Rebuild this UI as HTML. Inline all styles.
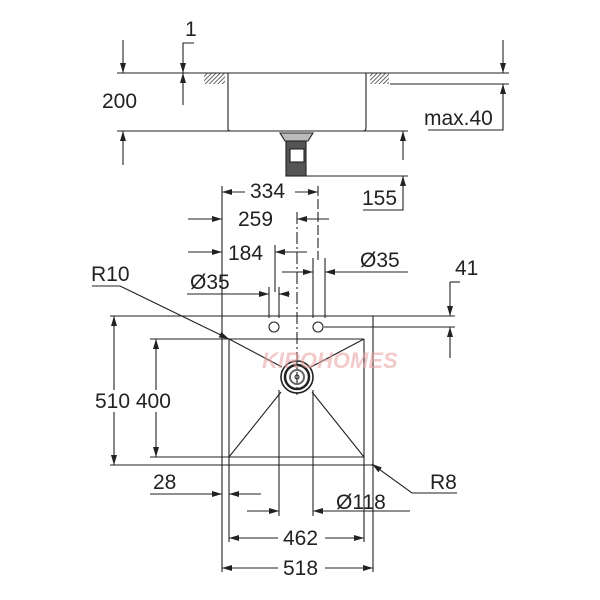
<!DOCTYPE html>
<html><head><style>
html,body{margin:0;padding:0;background:#fff;}
svg{display:block;}
text{font-family:"Liberation Sans",sans-serif;font-size:21px;fill:#222;}
</style></head><body>
<svg width="600" height="600" viewBox="0 0 600 600" xmlns="http://www.w3.org/2000/svg">
<defs>
<marker id="a" viewBox="0 0 10 6" refX="10" refY="3" markerWidth="11" markerHeight="6" orient="auto" markerUnits="userSpaceOnUse"><path d="M0,0 L10,3 L0,6 z" fill="#222"/></marker>
<pattern id="h" width="3" height="3" patternUnits="userSpaceOnUse" patternTransform="rotate(45)"><line x1="0" y1="0" x2="0" y2="3" stroke="#333" stroke-width="1.5"/></pattern>
</defs>
<g stroke="#222" stroke-width="1.1" fill="none">
<line x1="117" y1="73" x2="509" y2="73"/>
<line x1="390" y1="84" x2="509" y2="84"/>
<rect x="204" y="73" width="21" height="11" fill="url(#h)" stroke="none"/>
<rect x="370" y="73" width="19" height="11" fill="url(#h)" stroke="none"/>
<path d="M228,73 V129 Q228,131 231,131 H363 Q366,131 366,128 V73"/>
<line x1="117" y1="131" x2="408" y2="131"/>
<path d="M280,133 H313 L308,141 H285 Z" fill="#bbb"/>
<rect x="286" y="141" width="20" height="35" fill="#555"/>
<rect x="290" y="149" width="14" height="13" fill="#fff"/>
<line x1="293" y1="176" x2="408" y2="176"/>
<line x1="123" y1="40" x2="123" y2="73" marker-end="url(#a)"/>
<line x1="123" y1="165" x2="123" y2="131" marker-end="url(#a)"/>
<path d="M194,43 H183 V73" marker-end="url(#a)"/>
<line x1="183" y1="105" x2="183" y2="73" marker-end="url(#a)"/>
<line x1="503" y1="40" x2="503" y2="73" marker-end="url(#a)"/>
<path d="M428,130 H503 V84" marker-end="url(#a)"/>
<line x1="403" y1="160" x2="403" y2="131" marker-end="url(#a)"/>
<path d="M363,210 H403 V176" marker-end="url(#a)"/>
<line x1="222" y1="186" x2="222" y2="572"/>
<line x1="318" y1="186" x2="318" y2="260" stroke-dasharray="10 3"/>
<line x1="245" y1="192" x2="222" y2="192" marker-end="url(#a)"/>
<line x1="295" y1="192" x2="318" y2="192" marker-end="url(#a)"/>
<line x1="188" y1="219" x2="222" y2="219" marker-end="url(#a)"/>
<line x1="329" y1="219" x2="297" y2="219" marker-end="url(#a)"/>
<line x1="297" y1="212" x2="297" y2="395" stroke-dasharray="12 3 2 3"/>
<line x1="188" y1="252" x2="222" y2="252" marker-end="url(#a)"/>
<line x1="307" y1="252" x2="275" y2="252" marker-end="url(#a)"/>
<line x1="275" y1="245" x2="275" y2="292"/>
<line x1="187" y1="294" x2="269" y2="294" marker-end="url(#a)"/>
<line x1="290" y1="294" x2="279" y2="294" marker-end="url(#a)"/>
<line x1="282" y1="272" x2="313" y2="272" marker-end="url(#a)"/>
<line x1="408" y1="272" x2="325" y2="272" marker-end="url(#a)"/>
<line x1="269" y1="287" x2="269" y2="318"/><line x1="279" y1="287" x2="279" y2="318"/>
<line x1="313" y1="258" x2="313" y2="318"/><line x1="325" y1="258" x2="325" y2="318"/>
<circle cx="274" cy="327" r="5"/><circle cx="318" cy="327" r="5"/>
<line x1="110" y1="316" x2="455" y2="316"/>
<line x1="324" y1="327" x2="455" y2="327"/>
<line x1="373" y1="316" x2="373" y2="572"/>
<line x1="110" y1="465" x2="373" y2="465"/>
<line x1="150" y1="339" x2="364" y2="339"/>
<line x1="150" y1="457" x2="364" y2="457"/>
<line x1="229" y1="339" x2="229" y2="542"/>
<line x1="364" y1="339" x2="364" y2="542"/>
<line x1="229" y1="339" x2="282" y2="367"/>
<line x1="364" y1="339" x2="311" y2="367"/>
<line x1="229" y1="457" x2="281" y2="392"/>
<line x1="364" y1="457" x2="312" y2="392"/>
<circle cx="297" cy="377" r="16" stroke-width="1.6"/>
<circle cx="297" cy="377" r="12" stroke-width="2.5"/>
<circle cx="297" cy="377" r="7" stroke-width="2" stroke="#666"/>
<circle cx="297" cy="377" r="2"/>
<line x1="279" y1="390" x2="279" y2="516"/>
<line x1="313" y1="390" x2="313" y2="516"/>
<line x1="247" y1="511" x2="279" y2="511" marker-end="url(#a)"/>
<line x1="410" y1="511" x2="313" y2="511" marker-end="url(#a)"/>
<line x1="450" y1="282" x2="460" y2="282"/>
<line x1="450" y1="282" x2="450" y2="316" marker-end="url(#a)"/>
<line x1="450" y1="358" x2="450" y2="327" marker-end="url(#a)"/>
<path d="M92,286 H120 L229,339" marker-end="url(#a)"/>
<path d="M457,493 H412 L372,464" marker-end="url(#a)"/>
<line x1="114" y1="390" x2="114" y2="316" marker-end="url(#a)"/>
<line x1="114" y1="412" x2="114" y2="465" marker-end="url(#a)"/>
<line x1="156" y1="390" x2="156" y2="339" marker-end="url(#a)"/>
<line x1="156" y1="412" x2="156" y2="457" marker-end="url(#a)"/>
<line x1="150" y1="494" x2="222" y2="494" marker-end="url(#a)"/>
<line x1="261" y1="494" x2="229" y2="494" marker-end="url(#a)"/>
<line x1="278" y1="538" x2="229" y2="538" marker-end="url(#a)"/>
<line x1="325" y1="538" x2="364" y2="538" marker-end="url(#a)"/>
<line x1="278" y1="568" x2="222" y2="568" marker-end="url(#a)"/>
<line x1="325" y1="568" x2="373" y2="568" marker-end="url(#a)"/>
</g>
<text x="262" y="368" style="font-size:22px;font-style:italic;font-weight:bold;fill:#e8a0a0;opacity:0.55">KIROHOMES</text>
<text x="102" y="108">200</text>
<text x="185" y="36">1</text>
<text x="424" y="125">max.40</text>
<text x="362" y="205">155</text>
<text x="250" y="198">334</text>
<text x="238" y="226">259</text>
<text x="228" y="260">184</text>
<text x="190" y="289">Ø35</text>
<text x="360" y="267">Ø35</text>
<text x="455" y="275">41</text>
<text x="91" y="281">R10</text>
<text x="95" y="408">510 400</text>
<text x="153" y="489">28</text>
<text x="430" y="489">R8</text>
<text x="336" y="509">Ø118</text>
<text x="283" y="545">462</text>
<text x="283" y="575">518</text>
</svg>
</body></html>
